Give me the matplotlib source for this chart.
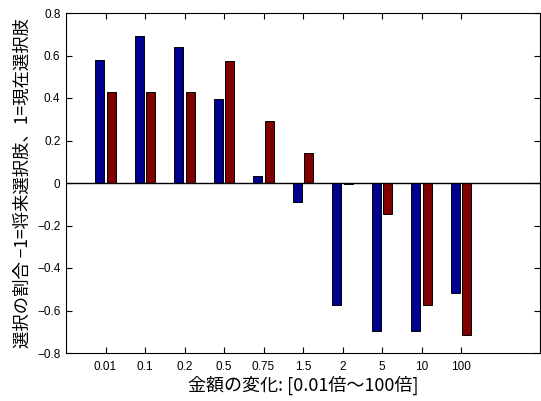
import numpy as np
import matplotlib.pyplot as plt

plt.rcParams['font.family'] = ['Noto Sans CJK JP', 'DejaVu Sans']

# categories: change in amount
categories = ['0.01', '0.1', '0.2', '0.5', '0.75', '1.5', '2', '5', '10', '100']
# proportion of choice, two conditions
blue_vals = [0.577, 0.693, 0.640, 0.395, 0.034, -0.088, -0.574, -0.695, -0.695, -0.518]
red_vals = [0.428, 0.428, 0.428, 0.572, 0.292, 0.143, -0.003, -0.144, -0.574, -0.717]
yticks = [-0.8, -0.6, -0.4, -0.2, 0, 0.2, 0.4, 0.6, 0.8]
ytick_labels = ['\u22120.8', '\u22120.6', '\u22120.4', '\u22120.2', '0', '0.2', '0.4', '0.6', '0.8']

x = np.arange(1, len(categories) + 1)
w = 0.23

fig = plt.figure(figsize=(5.41, 4.01), dpi=100)
ax = fig.add_axes([66/541, 48/401, 474/541, 340/401])

ax.bar(x - 0.145, blue_vals, w, color='#000090', edgecolor='black', linewidth=0.7)
ax.bar(x + 0.145, red_vals, w, color='#800000', edgecolor='black', linewidth=0.7)
ax.axhline(0, color='black', linewidth=1)

ax.set_xlim(0, 12)
ax.set_ylim(-0.8, 0.8)
ax.set_xticks(x)
ax.set_xticklabels(categories, family='Liberation Sans', fontsize=8.5)
ax.set_yticks(yticks)
ax.set_yticklabels(ytick_labels, family='Liberation Sans', fontsize=8.5)
ax.tick_params(direction='in', top=True, right=True, length=4, width=0.8)
ax.tick_params(axis='x', pad=6)
ax.tick_params(axis='y', pad=4)

ax.set_xlabel('金額の変化: [0.01倍〜100倍]', fontsize=13, labelpad=2)
ax.set_ylabel('選択の割合 \u22121=将来選択肢、1=現在選択肢', fontsize=12.5, labelpad=4)

fig.savefig('out.png', dpi=100)
